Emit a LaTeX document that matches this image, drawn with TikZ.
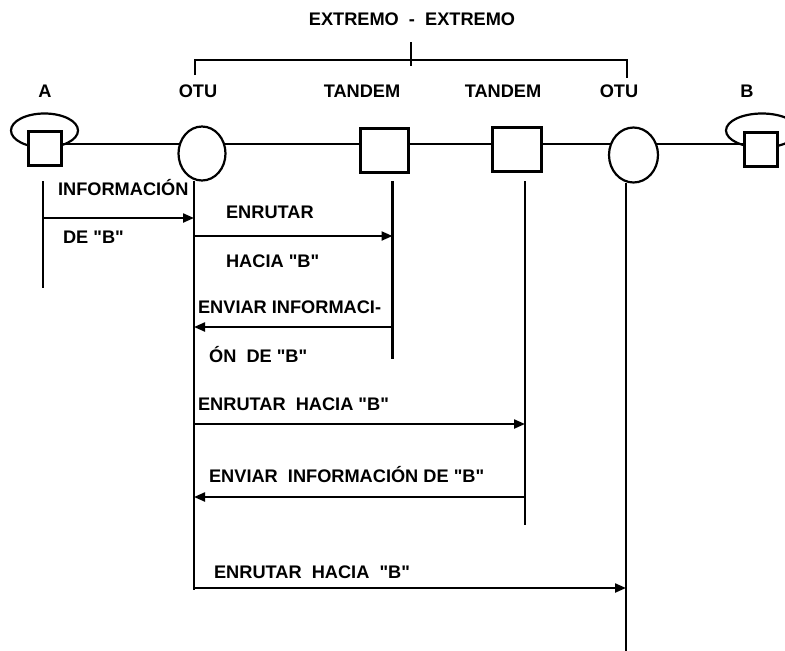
\documentclass[tikz,border=0pt]{standalone}
\usepackage{fontspec}
\setmainfont{Liberation Sans}[Ligatures=TeXOff]
\usetikzlibrary{arrows.meta,shapes.geometric}
\begin{document}
\begin{tikzpicture}[x=1pt,y=-1pt,line width=2.2pt,
    every node/.style={font=\bfseries\fontsize{18.2}{21}\selectfont},
    equipo/.style={draw,fill=white,minimum width=33pt,minimum height=34pt,inner sep=0pt},
    tandem/.style={draw,fill=white,minimum width=48pt,minimum height=44pt,inner sep=0pt},
    otu/.style={draw,fill=white,ellipse,minimum width=47pt,minimum height=54pt,inner sep=0pt},
    msg/.style={-{Triangle[length=11pt,width=9pt]}},
    etiq/.style={anchor=base west,inner sep=0pt},
    nombre/.style={anchor=base,inner sep=0pt}]
\useasboundingbox (0,0) rectangle (785,651);
% bucles de los abonados
\draw (44.5,130.5) ellipse [x radius=33.5, y radius=17];
\draw (762,130.5) ellipse [x radius=36, y radius=17];
% enlace
\draw (45,144) -- (761,144);
% equipos
\node[equipo] (A) at (45,148.5) {};
\node[otu] (otuA) at (202,153.5) {};
\node[tandem] (tanA) at (384.5,150.5) {};
\node[tandem,minimum width=49pt] (tanB) at (517,149.5) {};
\node[otu,minimum width=49pt,minimum height=55pt] (otuB) at (633.5,155) {};
\node[equipo] (B) at (761,149.5) {};
% nombres
\node[nombre] (lA) at (45,97) {A};
\node[nombre] (lotuA) at (198,97) {OTU};
\node[nombre] (ltanA) at (362,97) {TANDEM};
\node[nombre] (ltanB) at (503,97) {TANDEM};
\node[nombre] (lotuB) at (619,97) {OTU};
\node[nombre] (lB) at (747,97) {B};
% extremo - extremo
\node[nombre] (ext) at (412,25) {EXTREMO\ \ -\ \ EXTREMO};
\coordinate (llave1) at (195,75);
\coordinate (llave2) at (627,78);
\draw (llave1) -- (195,60) -- (627,60) -- (llave2);
\draw (411,42) -- (411,66);
% lineas de tiempo
\coordinate (vA) at (43,181);       \coordinate (vAfin) at (43,288);
\coordinate (votuA) at (194,181);   \coordinate (votuAfin) at (194,590);
\coordinate (vtanA) at (392.5,181); \coordinate (vtanAfin) at (392.5,359);
\coordinate (vtanB) at (525,181);   \coordinate (vtanBfin) at (525,525);
\coordinate (votuB) at (626,183);   \coordinate (votuBfin) at (626,651);
\draw (vA) -- (vAfin);
\draw (votuA) -- (votuAfin);
\draw (vtanA) -- (vtanAfin);
\draw (vtanB) -- (vtanBfin);
\draw (votuB) -- (votuBfin);
% mensajes
\draw[msg] (vA |- 0,218) -- (votuA |- 0,218);
\node[etiq] (m1a) at (57,195) {INFORMACIÓN};
\node[etiq] (m1b) at (62,243) {DE "B"};
\draw[msg] (votuA |- 0,236) -- (vtanA |- 0,236);
\node[etiq] (m2a) at (225,218) {ENRUTAR};
\node[etiq] (m2b) at (225,267) {HACIA "B"};
\draw[msg] (vtanA |- 0,327) -- (votuA |- 0,327);
\node[etiq] (m3a) at (197,313) {ENVIAR INFORMACI-};
\node[etiq] (m3b) at (208,362) {ÓN\ \ DE "B"};
\draw[msg] (votuA |- 0,424) -- (vtanB |- 0,424);
\node[etiq] (m4) at (197,410) {ENRUTAR\ \ HACIA "B"};
\draw[msg] (vtanB |- 0,497) -- (votuA |- 0,497);
\node[etiq] (m5) at (208,482) {ENVIAR\ \ INFORMACIÓN DE "B"};
\draw[msg] (votuA |- 0,588) -- (votuB |- 0,588);
\node[etiq] (m6) at (213,578) {ENRUTAR\ \ HACIA\ \ "B"};
\end{tikzpicture}
\end{document}
